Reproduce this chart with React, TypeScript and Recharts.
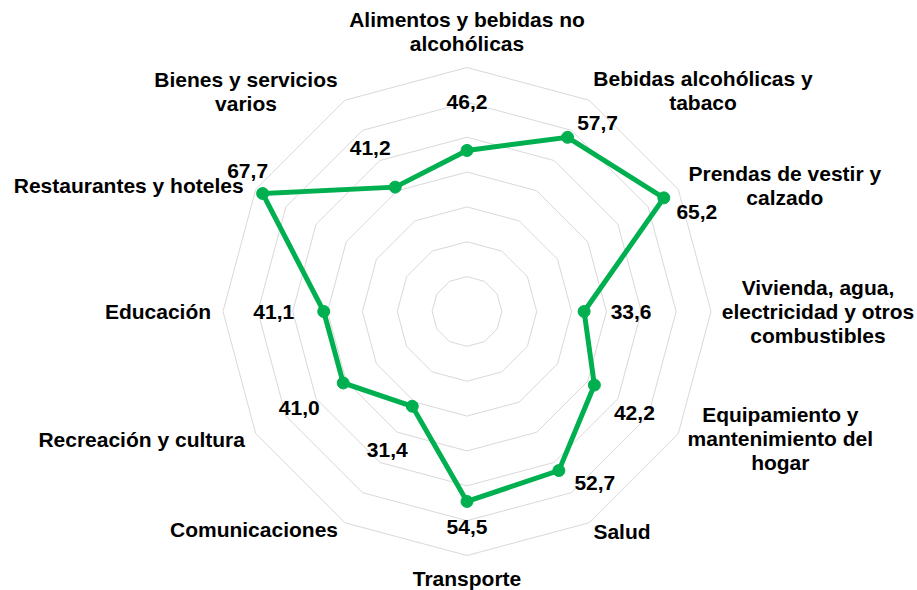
import React from 'react';
import { RadarChart, Radar, PolarGrid, PolarAngleAxis, PolarRadiusAxis } from 'recharts';

const categories = [
  'Alimentos y bebidas no alcohólicas',
  'Bebidas alcohólicas y tabaco',
  'Prendas de vestir y calzado',
  'Vivienda, agua, electricidad y otros combustibles',
  'Equipamiento y mantenimiento del hogar',
  'Salud',
  'Transporte',
  'Comunicaciones',
  'Recreación y cultura',
  'Educación',
  'Restaurantes y hoteles',
  'Bienes y servicios varios',
];

const categoryLines = [
  ['Alimentos y bebidas no', 'alcohólicas'],
  ['Bebidas alcohólicas y', 'tabaco'],
  ['Prendas de vestir y', 'calzado'],
  ['Vivienda, agua,', 'electricidad y otros', 'combustibles'],
  ['Equipamiento y', 'mantenimiento del', 'hogar'],
  ['Salud'],
  ['Transporte'],
  ['Comunicaciones'],
  ['Recreación y cultura'],
  ['Educación'],
  ['Restaurantes y hoteles'],
  ['Bienes y servicios', 'varios'],
];

const values = [46.2, 57.7, 65.2, 33.6, 42.2, 52.7, 54.5, 31.4, 41.0, 41.1, 67.7, 41.2];

const radiusDomain = [0, 70];

const data = categories.map((c, i) => ({ cat: c, v: values[i] }));

// layout (styling) constants
const CX = 467;
const CY = 311.5;
const R = 244;
const GREEN = '#00B050';
const FONT = '"Liberation Sans", Arial, Helvetica, sans-serif';
const FS = 21;
const LINE_H = 24;

const valueLabelOffsets = [
  [0, -49], [30, -15], [33, 14], [47, 0], [40, 27], [36, 12],
  [0, 25], [-25, 43], [-44, 25], [-50, 0], [-15, -23], [-25, -40],
];

const catLabelOffsets = [
  [0, -36.5], [114, -10], [106.5, -4], [107, 0], [102, 5], [33, 9],
  [0, 22.5], [-91, 7], [-114, 5.5], [-65, 0], [-127, -4.5], [-99, -9],
];

const RAD = Math.PI / 180;

const renderTick = (props: any) => {
  const { payload, index } = props;
  const angle = payload.coordinate;
  const vx = CX + R * Math.cos(-angle * RAD);
  const vy = CY + R * Math.sin(-angle * RAD);
  const i = index ?? categories.indexOf(payload.value);
  const off = catLabelOffsets[i] || [0, 0];
  const lines = categoryLines[i] || [String(payload.value)];
  const x = vx + off[0];
  const y0 = vy + off[1] - ((lines.length - 1) * LINE_H) / 2;
  return (
    <g>
      {lines.map((l, k) => (
        <text
          key={k}
          x={x}
          y={y0 + k * LINE_H}
          textAnchor="middle"
          dominantBaseline="central"
          fontFamily={FONT}
          fontWeight="bold"
          fontSize={FS}
          fill="#000"
        >
          {l}
        </text>
      ))}
    </g>
  );
};

const renderDot = (props: any) => {
  const { cx, cy, index } = props;
  const off = valueLabelOffsets[index] || [0, 0];
  const v = values[index];
  return (
    <g key={`dot-${index}`}>
      <circle cx={cx} cy={cy} r={6} fill={GREEN} stroke={GREEN} strokeWidth={1} />
      <text
        x={cx + off[0]}
        y={cy + off[1]}
        textAnchor="middle"
        dominantBaseline="central"
        fontFamily={FONT}
        fontWeight="bold"
        fontSize={FS}
        fill="#000"
      >
        {v.toFixed(1).replace('.', ',')}
      </text>
    </g>
  );
};

export default function App() {
  return (
    <div style={{ position: 'absolute', left: 0, top: 0, width: 917, height: 590, background: '#fff' }}>
      <RadarChart
        width={917}
        height={590}
        data={data}
        cx={CX}
        cy={CY}
        outerRadius={R}
        startAngle={90}
        endAngle={-270}
        margin={{ top: 0, right: 0, bottom: 0, left: 0 }}
      >
        <PolarGrid gridType="polygon" radialLines={false} stroke="#d9d9d9" strokeWidth={1} />
        <PolarAngleAxis dataKey="cat" tick={renderTick} tickLine={false} axisLine={false} />
        <PolarRadiusAxis domain={radiusDomain} tickCount={8} tick={false} axisLine={false} />
        <Radar
          dataKey="v"
          stroke={GREEN}
          strokeWidth={5}
          fill="none"
          fillOpacity={0}
          dot={renderDot}
          isAnimationActive={false}
        />
      </RadarChart>
    </div>
  );
}
